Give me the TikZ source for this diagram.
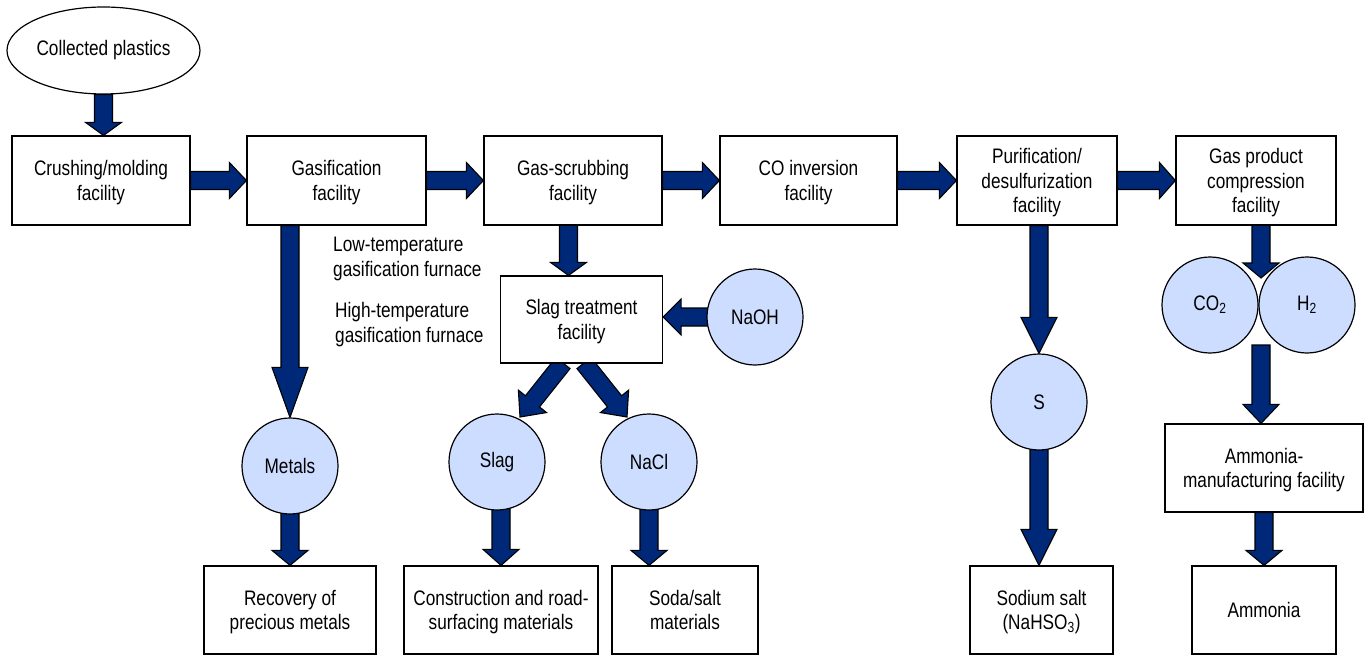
\documentclass[tikz,border=0pt]{standalone}
\usepackage{fontspec}
\setmainfont[FakeStretch=0.82]{Liberation Sans}
\usetikzlibrary{calc,shapes.geometric}
\definecolor{navy}{RGB}{0,40,120}
\definecolor{lblue}{RGB}{204,221,255}
\pgfdeclarelayer{bg}
\pgfsetlayers{bg,main}
\tikzset{
  box/.style={draw, line width=1.2pt, fill=white, inner sep=0pt, align=center, text depth=-3.6pt},
  circ/.style={circle, draw, line width=1.2pt, fill=lblue, minimum size=96pt, inner sep=0pt},
  barrow/.style={fill=navy, draw=black, line width=1.1pt, line join=miter},
  lbl/.style={anchor=west, align=left, inner sep=0pt}
}
\newcommand{\blockarr}[3]{%
  \coordinate (bah) at ($(#2)!#3!(#1)$);
  \filldraw[barrow] ($(#1)!9pt!90:(#2)$) -- ($(bah)!9pt!-90:(#1)$) -- ($(bah)!18pt!-90:(#1)$) -- (#2) -- ($(bah)!18pt!90:(#1)$) -- ($(bah)!9pt!90:(#1)$) -- ($(#1)!9pt!-90:(#2)$) -- cycle;}
\begin{document}
\begin{tikzpicture}[x=1pt, y=-1pt]
\fontsize{21pt}{24.5pt}\selectfont
\useasboundingbox (0,0) rectangle (1368,655);
% source
\node[ellipse, draw, line width=1.2pt, minimum width=193pt, minimum height=87pt, inner sep=0pt,
      label={center:Collected plastics}] (plast) at (103.5,50.5) {};
% top row
\node[box, minimum width=178pt, minimum height=89pt] (crush) at (101,180.5) {Crushing/molding\\facility};
\node[box, minimum width=179pt, minimum height=89pt] (gasif) at (336.5,180.5) {Gasification\\facility};
\node[box, minimum width=178pt, minimum height=89pt] (scrub) at (573,180.5) {Gas-scrubbing\\facility};
\node[box, minimum width=177pt, minimum height=89pt] (coinv) at (808.5,180.5) {CO inversion\\facility};
\node[box, minimum width=160pt, minimum height=89pt] (purif) at (1037,180.5) {Purification/\\desulfurization\\facility};
\node[box, minimum width=160pt, minimum height=89pt] (gasprod) at (1256,180.5) {Gas product\\compression\\facility};
% labels
\node[lbl] (lowt) at (333,259) {Low-temperature\\gasification furnace};
\node[lbl] (hight) at (335,324.5) {High-temperature\\gasification furnace};
% middle
\node[box, minimum width=162pt, minimum height=87pt] (slagtr) at (581.5,319.5) {Slag treatment\\facility};
\node[circ] (naoh) at (755,317) {NaOH};
\node[circ] (metals) at (290,466) {Metals};
\node[circ] (slag) at (497,462) {Slag};
\node[circ] (nacl) at (649,462) {NaCl};
\node[circ] (s) at (1039,402) {S};
\node[circ] (co2) at (1210,305) {CO\textsubscript{2}};
\node[circ] (h2) at (1307,305) {H\textsubscript{2}};
\node[box, minimum width=198pt, minimum height=88pt] (ammf) at (1264,468) {Ammonia-\\manufacturing facility};
% bottom row
\node[box, minimum width=172pt, minimum height=88pt] (recov) at (290,610) {Recovery of\\precious metals};
\node[box, minimum width=194pt, minimum height=88pt] (constr) at (501,610) {Construction and road-\\surfacing materials};
\node[box, minimum width=146pt, minimum height=88pt] (soda) at (685,610) {Soda/salt\\materials};
\node[box, minimum width=143pt, minimum height=88pt] (sodium) at (1041.5,610) {Sodium salt\\(NaHSO\textsubscript{3})};
\node[box, minimum width=144pt, minimum height=88pt] (ammonia) at (1264,610) {Ammonia};
% helper coordinates
\coordinate (scrubout) at (568.5,225);
\coordinate (stl) at (563,363);
\coordinate (str) at (584,363);
\coordinate (slagin) at (520,417);
\coordinate (naclin) at (627,417);
\coordinate (gpout) at (1261,225);
\coordinate (gap) at (1261,278);
\coordinate (gapb) at (1261,345);
% arrows
\begin{pgfonlayer}{bg}
\blockarr{plast.south}{plast.south |- crush.north}{13pt}
\blockarr{crush.east}{gasif.west}{17pt}
\blockarr{gasif.east}{scrub.west}{17pt}
\blockarr{scrub.east}{coinv.west}{17pt}
\blockarr{coinv.east}{purif.west}{17pt}
\blockarr{purif.east}{gasprod.west}{16pt}
\blockarr{metals.north |- gasif.south}{metals.north}{50pt}
\blockarr{scrubout}{scrubout |- slagtr.north}{13pt}
\blockarr{naoh.center}{slagtr.east |- naoh.center}{18pt}
\blockarr{stl}{slagin}{20pt}
\blockarr{str}{naclin}{20pt}
\blockarr{metals.center}{metals.center |- recov.north}{15pt}
\blockarr{constr.north |- slag.center}{constr.north}{16pt}
\blockarr{nacl.center}{nacl.center |- soda.north}{15pt}
\blockarr{s.north |- purif.south}{s.north}{36pt}
\blockarr{s.center}{s.center |- sodium.north}{36pt}
\blockarr{gpout}{gap}{15pt}
\blockarr{gapb}{gapb |- ammf.north}{19pt}
\blockarr{ammf.south}{ammonia.north}{15pt}
\end{pgfonlayer}
\end{tikzpicture}
\end{document}
